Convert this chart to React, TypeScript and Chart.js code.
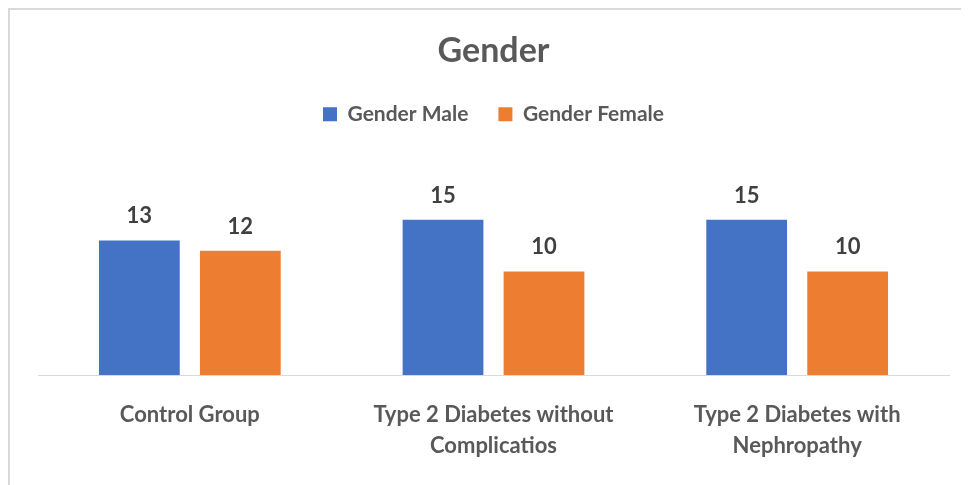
import React, { useEffect, useRef } from "react";
import { Chart, registerables } from "chart.js";

Chart.register(...registerables);

const categories: (string | string[])[] = [
  "Control Group",
  ["Type 2 Diabetes without", "Complicatios"],
  ["Type 2 Diabetes with", "Nephropathy"],
];
const maleValues = [13, 15, 15];
const femaleValues = [12, 10, 10];
const seriesNames = ["Gender Male", "Gender Female"];
const titleText = "Gender";

const FONT = "Lato, 'Open Sans', sans-serif";

const borderPlugin = {
  id: "cardBorder",
  beforeDraw(chart: any) {
    const { ctx, width, height } = chart;
    ctx.save();
    ctx.fillStyle = "#ffffff";
    ctx.fillRect(0, 0, width, height);
    ctx.strokeStyle = "#d9d9d9";
    ctx.lineWidth = 2;
    ctx.beginPath();
    ctx.moveTo(1, height);
    ctx.lineTo(1, 1);
    ctx.lineTo(width, 1);
    ctx.stroke();
    ctx.restore();
  },
};

const dataLabelPlugin = {
  id: "barValueLabels",
  afterDatasetsDraw(chart: any) {
    const { ctx } = chart;
    ctx.save();
    ctx.font = `bold 22px ${FONT}`;
    ctx.fillStyle = "#404040";
    ctx.textAlign = "center";
    ctx.textBaseline = "alphabetic";
    chart.data.datasets.forEach((ds: any, di: number) => {
      const meta = chart.getDatasetMeta(di);
      meta.data.forEach((bar: any, i: number) => {
        ctx.fillText(String(ds.data[i]), bar.x, bar.y - 17);
      });
    });
    ctx.restore();
  },
};

export default function App() {
  const ref = useRef<HTMLCanvasElement | null>(null);

  useEffect(() => {
    if (!ref.current) return;
    const chart = new Chart(ref.current, {
      type: "bar",
      data: {
        labels: categories,
        datasets: [
          {
            label: seriesNames[0],
            data: maleValues,
            backgroundColor: "#4472C4",
            barPercentage: 0.8,
            categoryPercentage: 0.665,
          },
          {
            label: seriesNames[1],
            data: femaleValues,
            backgroundColor: "#ED7D31",
            barPercentage: 0.8,
            categoryPercentage: 0.665,
          },
        ],
      },
      options: {
        animation: false,
        responsive: true,
        maintainAspectRatio: false,
        layout: { padding: { left: 30, right: 20, top: 0, bottom: 0 } },
        plugins: {
          title: {
            display: true,
            text: titleText,
            color: "#595959",
            font: { family: FONT, size: 34, weight: "bold" },
            padding: { top: 23, bottom: 2 },
          },
          legend: {
            display: true,
            position: "top",
            labels: {
              boxWidth: 14,
              boxHeight: 14,
              color: "#595959",
              padding: 30,
              font: { family: FONT, size: 21, weight: "bold" },
            },
          },
          tooltip: { enabled: false },
        },
        scales: {
          x: {
            grid: { display: false, drawTicks: false },
            border: { display: true, color: "#d9d9d9", width: 1 },
            ticks: {
              color: "#595959",
              padding: 24,
              maxRotation: 0,
              autoSkip: false,
              font: { family: FONT, size: 22, weight: "bold", lineHeight: 31 / 22 },
            },
          },
          y: {
            display: false,
            min: 0,
            max: 23.2,
          },
        },
      },
      plugins: [borderPlugin, dataLabelPlugin],
    });
    return () => chart.destroy();
  }, []);

  return (
    <div style={{ width: 961, height: 477, position: "relative" }}>
      <canvas ref={ref} />
    </div>
  );
}
